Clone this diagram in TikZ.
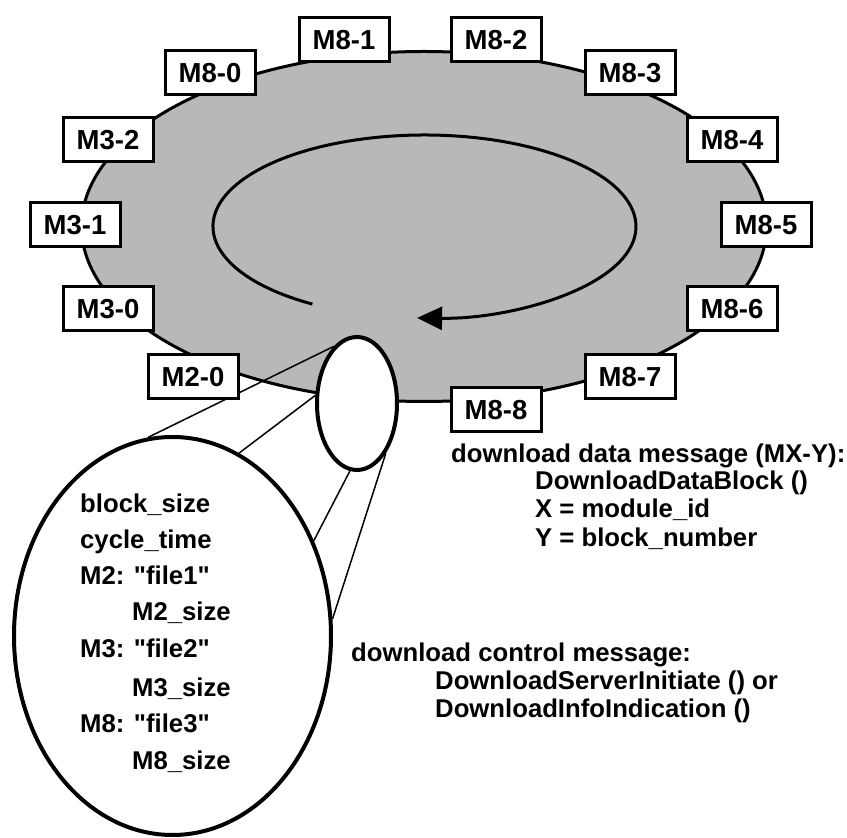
\documentclass[tikz,border=0pt]{standalone}
\usepackage{fontspec}
\setmainfont{Liberation Sans}[Ligatures=TeXOff]
\usetikzlibrary{arrows.meta,shapes.geometric}
\tikzset{
  modbox/.style={draw, fill=white, line width=3pt, minimum width=90pt,
    minimum height=44pt, inner sep=0pt,
    font=\fontsize{27.5}{30}\selectfont\bfseries},
  msgtext/.style={anchor=base west, inner sep=0pt,
    font=\fontsize{25.7}{30}\selectfont\bfseries},
  oval/.style={ellipse, draw, fill=white, line width=4pt, inner sep=0pt},
  zoomline/.style={line width=1.5pt}
}

\begin{document}
\begin{tikzpicture}[x=1pt,y=1pt]
      \useasboundingbox (0,0) rectangle (847,838);
      % carousel and its cycle
      \filldraw[fill=black!28,draw=black,line width=3pt]
       (424,611.5) ellipse [x radius=342.5pt, y radius=175pt];
      \draw[line width=3pt,-{Triangle[length=25pt,width=23pt]}]
       (312.4,533.9) arc[start angle=238, end angle=-92,
                         x radius=211.5pt, y radius=91.5pt];
      % control message and its zoom
      \node[oval,minimum width=80pt,minimum height=133pt] (ctrl) at (357,434.5) {};
      \node[oval,minimum width=317pt,minimum height=398pt] (info) at (172.5,202) {};
      \draw[zoomline] (ctrl.112) -- (info.97);
      \draw[zoomline] (ctrl.169) -- (info.70);
      \draw[zoomline] (ctrl.264) -- (info.34);
      \draw[zoomline] (ctrl.300) -- (info.6);
      % data blocks
      \node[modbox] (m80) at (210,765) {M8-0};
      \node[modbox] (m81) at (344,798) {M8-1};
      \node[modbox] (m82) at (496,798) {M8-2};
      \node[modbox] (m83) at (630,765) {M8-3};
      \node[modbox] (m84) at (732,698) {M8-4};
      \node[modbox] (m85) at (766,613) {M8-5};
      \node[modbox] (m86) at (732,529) {M8-6};
      \node[modbox] (m87) at (630,461) {M8-7};
      \node[modbox] (m88) at (496,428) {M8-8};
      \node[modbox] (m32) at (108,698) {M3-2};
      \node[modbox] (m31) at (75,613)  {M3-1};
      \node[modbox] (m30) at (108,529) {M3-0};
      \node[modbox] (m20) at (193,461) {M2-0};
      % contents of the control message
      \node[msgtext] (bsize) at (80,325)  {block\_size};
      \node[msgtext] (ctime) at (80,289)  {cycle\_time};
      \node[msgtext] (f1)    at (80,253)  {M2: "file1"};
      \node[msgtext] (s1)    at (132,217) {M2\_size};
      \node[msgtext] (f2)    at (80,180)  {M3: "file2"};
      \node[msgtext] (s2)    at (132,141) {M3\_size};
      \node[msgtext] (f3)    at (80,105)  {M8: "file3"};
      \node[msgtext] (s3)    at (132,68)  {M8\_size};
      % legend
      \node[msgtext] (dtitle) at (451,375) {download data message (MX-Y):};
      \node[msgtext] (dfunc)  at (535,348) {DownloadDataBlock ()};
      \node[msgtext] (dx)     at (535,320) {X = module\_id};
      \node[msgtext] (dy)     at (535,291) {Y = block\_number};
      \node[msgtext] (ctitle) at (351,176) {download control message:};
      \node[msgtext] (cfunc1) at (435,148) {DownloadServerInitiate () or};
      \node[msgtext] (cfunc2) at (435,120) {DownloadInfoIndication ()};
\end{tikzpicture}
\end{document}
